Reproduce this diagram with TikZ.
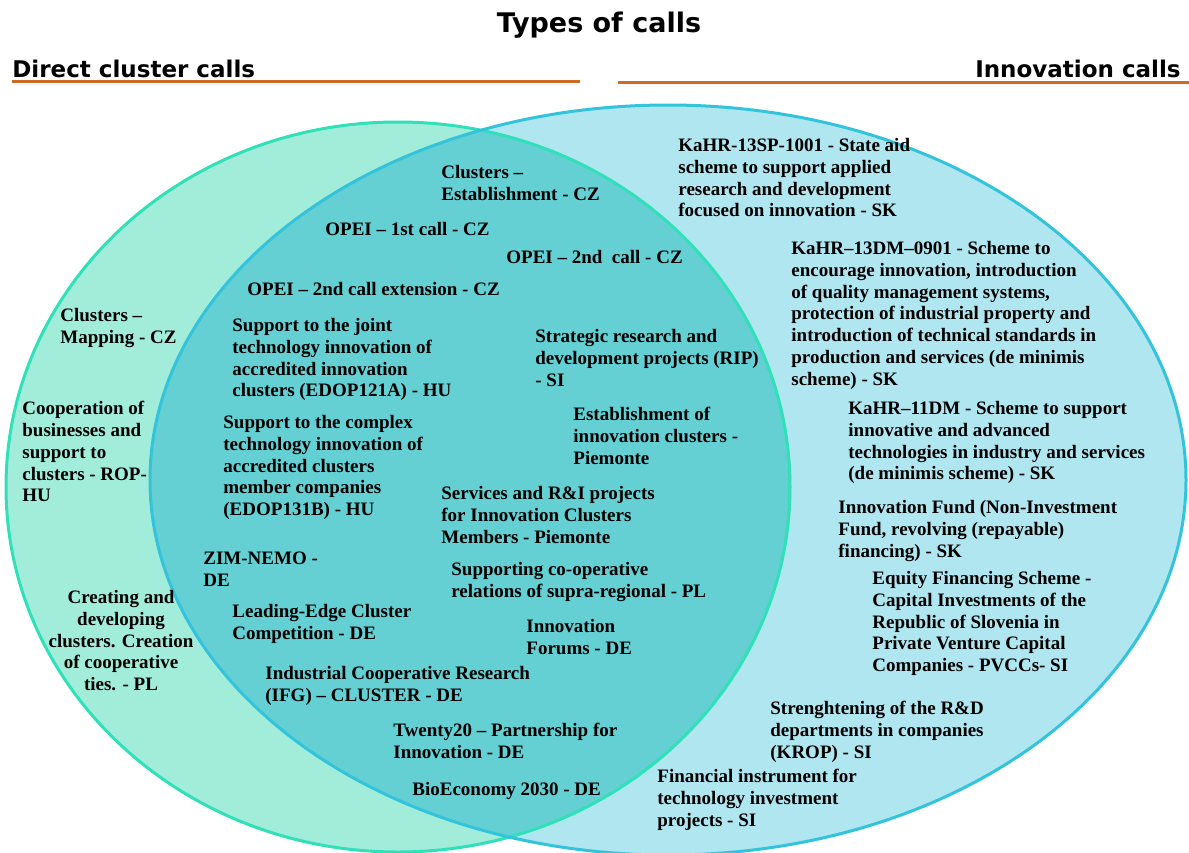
\documentclass[tikz,border=0pt]{standalone}
\usepackage{fontspec}
\setmainfont{Liberation Serif}
\newfontfamily\headfont{DejaVu Sans}
\definecolor{mintfill}{HTML}{A2EDDA}
\definecolor{skyfill}{HTML}{B0E6F0}
\definecolor{bothfill}{HTML}{64D0D3}
\definecolor{mintline}{HTML}{2FE0B8}
\definecolor{skyline}{HTML}{33C3DB}
\definecolor{rulecol}{HTML}{CD6A24}

\begin{document}
\begin{tikzpicture}[x=0.5pt,y=-0.5pt,
    call/.style={anchor=north west, inner sep=0pt, align=left,
      font=\bfseries\fontsize{9.5}{10.9}\selectfont},
    hdr/.style={inner sep=0pt, font=\headfont\bfseries\fontsize{11.5}{13}\selectfont}]

      \useasboundingbox (0,0) rectangle (1189,852);

      % the two sets
      \fill[mintfill] (398,487) ellipse [x radius=392, y radius=365];
      \fill[skyfill] (668,480) ellipse [x radius=518, y radius=375];
      \begin{scope}
        \clip (398,487) ellipse [x radius=392, y radius=365];
        \fill[bothfill] (668,480) ellipse [x radius=518, y radius=375];
      \end{scope}
      \draw[mintline, line width=1.5pt] (398,487) ellipse [x radius=392, y radius=365];
      \draw[skyline, line width=1.5pt] (668,480) ellipse [x radius=518, y radius=375];

      % headings
      \node[hdr, anchor=base, font=\headfont\bfseries\fontsize{13.5}{15}\selectfont] (title) at (599,32) {Types of calls};
      \node[hdr, anchor=base west] (direct) at (12,77) {Direct cluster calls};
      \node[hdr, anchor=base east] (innov) at (1181,77) {Innovation calls};
      \draw[rulecol, line width=1.5pt] (12,81) -- (580,81);
      \draw[rulecol, line width=1.5pt] (618,82) -- (1189,82);

      % direct cluster calls only
      \node[call] (mapping) at (60,308) {Clusters --\\Mapping - CZ};
      \node[call] (coop) at (22,401) {Cooperation of\\businesses and\\support to\\clusters - ROP-\\HU};
      \node[call, anchor=north, align=center] (creating) at (121,590) {Creating and\\developing\\clusters. Creation\\of cooperative\\ties. - PL};

      % both
      \node[call] (estab) at (441,165) {Clusters --\\Establishment - CZ};
      \node[call] (opeione) at (325,222) {OPEI -- 1st call - CZ};
      \node[call] (opeitwo) at (506,250) {OPEI -- 2nd~~call - CZ};
      \node[call] (opeiext) at (247,282) {OPEI -- 2nd call extension - CZ};
      \node[call] (joint) at (232,318) {Support to the joint\\technology innovation of\\accredited innovation\\clusters (EDOP121A) - HU};
      \node[call] (rip) at (535,329) {Strategic research and\\development projects (RIP)\\- SI};
      \node[call] (piemest) at (573,407) {Establishment of\\innovation clusters -\\Piemonte};
      \node[call] (complex) at (223,415) {Support to the complex\\technology innovation of\\accredited clusters\\member companies\\(EDOP131B) - HU};
      \node[call] (services) at (441,486) {Services and R\&I projects\\for Innovation Clusters\\Members - Piemonte};
      \node[call] (zim) at (203,552) {ZIM-NEMO -\\DE};
      \node[call] (supra) at (451,562) {Supporting co-operative\\relations of supra-regional - PL};
      \node[call] (leading) at (232,604) {Leading-Edge Cluster\\Competition - DE};
      \node[call] (forums) at (526,619) {Innovation\\Forums - DE};
      \node[call] (ifg) at (265,666) {Industrial Cooperative Research\\(IFG) -- CLUSTER - DE};
      \node[call] (twenty) at (393,723) {Twenty20 -- Partnership for\\Innovation - DE};
      \node[call] (bio) at (412,782) {BioEconomy 2030 - DE};

      % innovation calls only
      \node[call] (sp) at (678,138) {KaHR-13SP-1001 - State aid\\scheme to support applied\\research and development\\focused on innovation - SK};
      \node[call] (dm) at (791,241) {KaHR--13DM--0901 - Scheme to\\encourage innovation, introduction\\of quality management systems,\\protection of industrial property and\\introduction of technical standards in\\production and services (de minimis\\scheme) - SK};
      \node[call] (elevendm) at (848,401) {KaHR--11DM - Scheme to support\\innovative and advanced\\technologies in industry and services\\(de minimis scheme) - SK};
      \node[call] (fund) at (838,500) {Innovation Fund (Non-Investment\\Fund, revolving (repayable)\\financing) - SK};
      \node[call] (equity) at (872,571) {Equity Financing Scheme -\\Capital Investments of the\\Republic of Slovenia in\\Private Venture Capital\\Companies - PVCCs- SI};
      \node[call] (krop) at (770,701) {Strenghtening of the R\&D\\departments in companies\\(KROP) - SI};
      \node[call] (fin) at (657,769) {Financial instrument for\\technology investment\\projects - SI};

    \end{tikzpicture}
\end{document}
